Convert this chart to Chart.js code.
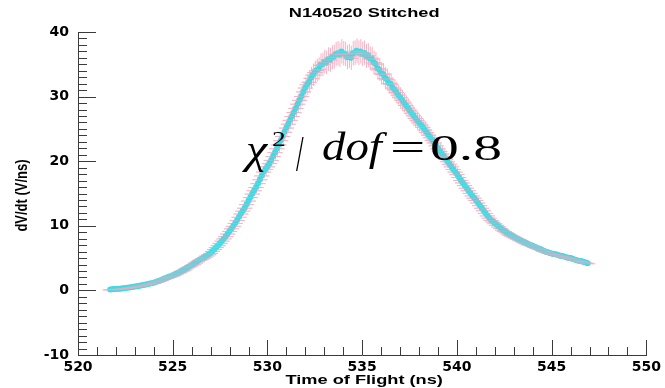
<!DOCTYPE html>
<html>
<head>
<meta charset="utf-8">
<script src="https://cdn.jsdelivr.net/npm/chart.js@4/dist/chart.umd.min.js"></script>
<style>
  html, body { margin: 0; padding: 0; background: #fff; }
  #wrap { width: 665px; height: 388px; }
</style>
</head>
<body>
<div id="wrap"><canvas id="c" width="665" height="388"></canvas></div>
<script>
// Time of flight (ns)
const tof = [
  521.7, 521.8, 521.9, 522.0, 522.1, 522.2, 522.3, 522.4, 522.5, 522.6,
  522.7, 522.8, 522.9, 523.0, 523.1, 523.2, 523.3, 523.4, 523.5, 523.6,
  523.7, 523.8, 523.9, 524.0, 524.1, 524.2, 524.3, 524.4, 524.5, 524.6,
  524.7, 524.8, 524.9, 525.0, 525.1, 525.2, 525.3, 525.4, 525.5, 525.6,
  525.7, 525.8, 525.9, 526.0, 526.1, 526.2, 526.3, 526.4, 526.5, 526.6,
  526.7, 526.8, 526.9, 527.0, 527.1, 527.2, 527.3, 527.4, 527.5, 527.6,
  527.7, 527.8, 527.9, 528.0, 528.1, 528.2, 528.3, 528.4, 528.5, 528.6,
  528.7, 528.8, 528.9, 529.0, 529.1, 529.2, 529.3, 529.4, 529.5, 529.6,
  529.7, 529.8, 529.9, 530.0, 530.1, 530.2, 530.3, 530.4, 530.5, 530.6,
  530.7, 530.8, 530.9, 531.0, 531.1, 531.2, 531.3, 531.4, 531.5, 531.6,
  531.7, 531.8, 531.9, 532.0, 532.1, 532.2, 532.3, 532.4, 532.5, 532.6,
  532.7, 532.8, 532.9, 533.0, 533.1, 533.2, 533.3, 533.4, 533.5, 533.6,
  533.7, 533.8, 533.9, 534.0, 534.1, 534.2, 534.3, 534.4, 534.5, 534.6,
  534.7, 534.8, 534.9, 535.0, 535.1, 535.2, 535.3, 535.4, 535.5, 535.6,
  535.7, 535.8, 535.9, 536.0, 536.1, 536.2, 536.3, 536.4, 536.5, 536.6,
  536.7, 536.8, 536.9, 537.0, 537.1, 537.2, 537.3, 537.4, 537.5, 537.6,
  537.7, 537.8, 537.9, 538.0, 538.1, 538.2, 538.3, 538.4, 538.5, 538.6,
  538.7, 538.8, 538.9, 539.0, 539.1, 539.2, 539.3, 539.4, 539.5, 539.6,
  539.7, 539.8, 539.9, 540.0, 540.1, 540.2, 540.3, 540.4, 540.5, 540.6,
  540.7, 540.8, 540.9, 541.0, 541.1, 541.2, 541.3, 541.4, 541.5, 541.6,
  541.7, 541.8, 541.9, 542.0, 542.1, 542.2, 542.3, 542.4, 542.5, 542.6,
  542.7, 542.8, 542.9, 543.0, 543.1, 543.2, 543.3, 543.4, 543.5, 543.6,
  543.7, 543.8, 543.9, 544.0, 544.1, 544.2, 544.3, 544.4, 544.5, 544.6,
  544.7, 544.8, 544.9, 545.0, 545.1, 545.2, 545.3, 545.4, 545.5, 545.6,
  545.7, 545.8, 545.9, 546.0, 546.1, 546.2, 546.3, 546.4, 546.5, 546.6,
  546.7, 546.8, 546.9
];

// dV/dt (V/ns)
const dvdt = [
  0.15, 0.18, 0.20, 0.22, 0.25, 0.27, 0.30, 0.33, 0.37, 0.41,
  0.45, 0.49, 0.54, 0.59, 0.64, 0.69, 0.74, 0.80, 0.86, 0.92,
  0.98, 1.05, 1.12, 1.20, 1.30, 1.40, 1.50, 1.60, 1.75, 1.90,
  2.00, 2.10, 2.20, 2.30, 2.45, 2.60, 2.75, 2.90, 3.05, 3.20,
  3.40, 3.60, 3.75, 3.90, 4.10, 4.30, 4.50, 4.70, 4.85, 5.00,
  5.20, 5.40, 5.60, 5.80, 6.10, 6.40, 6.70, 7.00, 7.35, 7.70,
  8.05, 8.40, 8.80, 9.20, 9.60, 10.0, 10.45, 10.9, 11.4, 11.9,
  12.35, 12.8, 13.35, 13.9, 14.45, 15.0, 15.5, 16.0, 16.6, 17.2,
  17.8, 18.4, 18.8, 19.2, 19.7, 20.2, 20.8, 21.4, 22.0, 22.6,
  23.25, 23.9, 24.55, 25.2, 25.8, 26.4, 27.0, 27.6, 28.25, 28.9,
  29.5, 30.1, 30.8, 31.4, 31.9, 32.3, 32.9, 33.4, 33.8, 34.1,
  34.3, 34.9, 35.0, 35.4, 35.3, 35.8, 35.7, 36.1, 36.2, 36.6,
  36.7, 36.5, 37.0, 36.7, 36.6, 36.1, 36.3, 36.0, 36.7, 36.8,
  37.1, 36.8, 37.0, 36.6, 36.8, 36.3, 36.4, 35.9, 35.9, 35.3,
  35.1, 34.4, 34.2, 33.6, 33.5, 32.9, 32.7, 32.1, 32.0, 31.4,
  31.1, 30.7, 30.3, 29.9, 29.5, 29.1, 28.7, 28.3, 27.9, 27.5,
  27.1, 26.7, 26.35, 26.0, 25.65, 25.3, 24.9, 24.5, 24.1, 23.7,
  23.3, 22.9, 22.45, 22.0, 21.6, 21.2, 20.8, 20.4, 20.0, 19.6,
  19.2, 18.8, 18.4, 18.0, 17.55, 17.1, 16.7, 16.3, 15.9, 15.5,
  15.1, 14.7, 14.35, 14.0, 13.6, 13.2, 12.8, 12.4, 12.0, 11.6,
  11.25, 10.9, 10.65, 10.4, 10.15, 9.90, 9.65, 9.40, 9.20, 9.00,
  8.80, 8.60, 8.45, 8.30, 8.15, 8.00, 7.85, 7.70, 7.55, 7.40,
  7.25, 7.10, 7.00, 6.90, 6.75, 6.60, 6.50, 6.40, 6.25, 6.10,
  6.00, 5.90, 5.80, 5.70, 5.65, 5.60, 5.50, 5.40, 5.35, 5.30,
  5.20, 5.10, 5.05, 5.00, 4.90, 4.80, 4.70, 4.60, 4.55, 4.50,
  4.40, 4.30, 4.20
];

// Uncertainty on dV/dt (V/ns)
const dvdtErr = [
  0.13, 0.13, 0.13, 0.13, 0.13, 0.13, 0.14, 0.14, 0.14, 0.14,
  0.14, 0.14, 0.15, 0.15, 0.15, 0.15, 0.16, 0.16, 0.16, 0.16,
  0.17, 0.17, 0.17, 0.18, 0.18, 0.19, 0.19, 0.20, 0.20, 0.21,
  0.22, 0.22, 0.23, 0.23, 0.24, 0.24, 0.25, 0.26, 0.27, 0.27,
  0.28, 0.29, 0.30, 0.31, 0.32, 0.33, 0.34, 0.35, 0.35, 0.36,
  0.37, 0.38, 0.39, 0.40, 0.41, 0.43, 0.44, 0.46, 0.47, 0.49,
  0.51, 0.52, 0.54, 0.56, 0.58, 0.60, 0.62, 0.64, 0.67, 0.69,
  0.71, 0.73, 0.76, 0.79, 0.81, 0.84, 0.86, 0.89, 0.92, 0.95,
  0.97, 1.00, 1.02, 1.04, 1.07, 1.09, 1.12, 1.15, 1.18, 1.20,
  1.24, 1.27, 1.30, 1.33, 1.36, 1.39, 1.42, 1.44, 1.48, 1.51,
  1.54, 1.56, 1.60, 1.63, 1.65, 1.67, 1.70, 1.72, 1.74, 1.76,
  1.78, 1.79, 1.81, 1.82, 1.83, 1.84, 1.85, 1.86, 1.87, 1.88,
  1.89, 1.89, 1.90, 1.90, 1.88, 1.87, 1.86, 1.87, 1.88, 1.90,
  1.90, 1.90, 1.89, 1.89, 1.88, 1.87, 1.86, 1.85, 1.84, 1.82,
  1.80, 1.78, 1.76, 1.74, 1.72, 1.70, 1.68, 1.66, 1.65, 1.63,
  1.61, 1.59, 1.57, 1.56, 1.54, 1.52, 1.50, 1.48, 1.46, 1.44,
  1.42, 1.40, 1.39, 1.37, 1.35, 1.33, 1.32, 1.30, 1.28, 1.26,
  1.24, 1.22, 1.20, 1.18, 1.16, 1.14, 1.12, 1.10, 1.08, 1.06,
  1.04, 1.02, 1.00, 0.98, 0.96, 0.94, 0.92, 0.90, 0.88, 0.86,
  0.84, 0.83, 0.81, 0.79, 0.77, 0.75, 0.73, 0.72, 0.70, 0.68,
  0.66, 0.64, 0.63, 0.62, 0.61, 0.60, 0.58, 0.57, 0.56, 0.55,
  0.54, 0.53, 0.53, 0.52, 0.51, 0.50, 0.50, 0.49, 0.48, 0.48,
  0.47, 0.46, 0.46, 0.45, 0.44, 0.44, 0.43, 0.43, 0.42, 0.41,
  0.41, 0.40, 0.40, 0.39, 0.39, 0.39, 0.38, 0.38, 0.38, 0.37,
  0.37, 0.36, 0.36, 0.36, 0.35, 0.35, 0.35, 0.34, 0.34, 0.34,
  0.33, 0.33, 0.32
];

// Timing uncertainty (ns), same for every sample
const tofErr = 0.4;

const xTickRange = [520, 550];
const yTickRange = [-10, 40];

const titleText = 'N140520 Stitched';
const xTitleText = 'Time of Flight (ns)';
const yTitleText = 'dV/dt (V/ns)';
const fitText = { chi: '\u03C7', sup: '2', slash: '/', dof: 'dof', eq: '=', val: '0.8' };

const points = tof.map((t, i) => ({ x: t, y: dvdt[i], ey: dvdtErr[i], ex: tofErr }));

const AXIS_COLOR = '#3a3a3a';
const SANS = '"Liberation Sans", Arial, sans-serif';
const SERIF = '"Liberation Serif", "Times New Roman", serif';

function strokeErrorBars(chart, style, horizontalOnly) {
  const ctx = chart.ctx;
  const xs = chart.scales.x, ys = chart.scales.y;
  const ds = chart.data.datasets[0].data;
  ctx.save();
  ctx.strokeStyle = style;
  ctx.lineWidth = 1;
  ctx.beginPath();
  ds.forEach(p => {
    const px = xs.getPixelForValue(p.x), py = ys.getPixelForValue(p.y);
    const x0 = xs.getPixelForValue(p.x - p.ex), x1 = xs.getPixelForValue(p.x + p.ex);
    ctx.moveTo(x0, py + 0.5); ctx.lineTo(x1, py + 0.5);
    if (!horizontalOnly) {
      const y0 = ys.getPixelForValue(p.y - p.ey), y1 = ys.getPixelForValue(p.y + p.ey);
      ctx.moveTo(px + 0.5, y0); ctx.lineTo(px + 0.5, y1);
    }
  });
  ctx.stroke();
  ctx.restore();
}

// Error bars, inward tick marks, titles and fit annotation
const decorations = {
  id: 'decorations',
  beforeDatasetsDraw(chart) {
    strokeErrorBars(chart, '#f6b3c4', false);
  },
  afterDatasetsDraw(chart) {
    strokeErrorBars(chart, 'rgba(246,172,192,0.4)', true);
  },
  afterDraw(chart) {
    const ctx = chart.ctx;
    const xs = chart.scales.x, ys = chart.scales.y;
    const area = chart.chartArea;
    ctx.save();
    ctx.strokeStyle = AXIS_COLOR;
    ctx.lineWidth = 1;
    ctx.beginPath();
    for (let v = yTickRange[0]; v <= yTickRange[1]; v += 1) {
      const y = Math.round(ys.getPixelForValue(v)) + 0.5;
      const len = (v % 10 === 0) ? 18 : 9;
      ctx.moveTo(area.left, y); ctx.lineTo(area.left + len, y);
    }
    for (let v = xTickRange[0]; v <= xTickRange[1]; v += 1) {
      const x = Math.round(xs.getPixelForValue(v)) + 0.5;
      const len = (v % 5 === 0) ? 15 : 8;
      ctx.moveTo(x, area.bottom); ctx.lineTo(x, area.bottom - len);
    }
    ctx.stroke();

    // titles (horizontally widened text)
    ctx.fillStyle = '#000';
    ctx.textBaseline = 'middle';
    const wide = (text, cx, cy, font, sx) => {
      ctx.save();
      ctx.font = font;
      ctx.textAlign = 'center';
      ctx.setTransform(sx, 0, 0, 1, cx, cy);
      ctx.fillText(text, 0, 0);
      ctx.restore();
    };
    const midX = (area.left + area.right) / 2 + 2;
    wide(titleText, midX, 13, 'bold 13px ' + SANS, 1.4);
    wide(xTitleText, midX, 380, 'bold 13px ' + SANS, 1.4);
    ctx.save();
    ctx.font = 'bold 13px ' + SANS;
    ctx.textAlign = 'center';
    ctx.setTransform(1.3, 0, 0, 1, 22, (area.top + area.bottom) / 2 + 2);
    ctx.rotate(-Math.PI / 2);
    ctx.fillText(yTitleText, 0, 0);
    ctx.restore();

    // fit quality annotation
    ctx.textAlign = 'left';
    ctx.textBaseline = 'alphabetic';
    const seg = (text, x, y, font, sx) => {
      ctx.save();
      ctx.font = font;
      ctx.setTransform(sx, 0, 0, 1, x, y);
      ctx.fillText(text, 0, 0);
      ctx.restore();
    };
    seg(fitText.chi, 246, 163, 'italic 40px ' + SERIF, 1.2);
    seg(fitText.sup, 272, 146, '22px ' + SERIF, 1.25);
    seg(fitText.slash, 296, 170, '50px ' + SERIF, 0.55);
    seg(fitText.dof, 322, 160, 'italic 39px ' + SERIF, 1.2);
    seg(fitText.eq, 390, 160, '38px ' + SERIF, 1.65);
    seg(fitText.val, 430, 160, '36px ' + SERIF, 1.6);
    ctx.restore();
  }
};

new Chart(document.getElementById('c'), {
  type: 'scatter',
  data: {
    datasets: [{
      data: points,
      pointRadius: 3.0,
      pointBorderWidth: 0,
      pointBackgroundColor: '#3fdbe4',
      pointBorderColor: '#3fdbe4',
      showLine: false
    }]
  },
  options: {
    responsive: false,
    animation: false,
    events: [],
    layout: { padding: { top: 32, right: 17, left: 0, bottom: 0 } },
    plugins: { legend: { display: false }, tooltip: { enabled: false }, title: { display: false } },
    scales: {
      x: {
        type: 'linear',
        min: xTickRange[0], max: xTickRange[1],
        grid: { display: false, drawTicks: false },
        border: { display: true, color: AXIS_COLOR, width: 1 },
        ticks: { stepSize: 5, color: '#000', padding: 4, maxRotation: 0,
                 font: { family: '"DejaVu Sans", sans-serif', weight: 'bold', size: 14 } },
        afterFit(s) { s.height = 33; }
      },
      y: {
        type: 'linear',
        min: yTickRange[0], max: yTickRange[1],
        grid: { display: false, drawTicks: false },
        border: { display: true, color: AXIS_COLOR, width: 1 },
        ticks: { stepSize: 10, color: '#000', padding: 9,
                 font: { family: '"DejaVu Sans", sans-serif', weight: 'bold', size: 14 } },
        afterFit(s) { s.width = 78; }
      }
    }
  },
  plugins: [decorations]
});
</script>
</body>
</html>
